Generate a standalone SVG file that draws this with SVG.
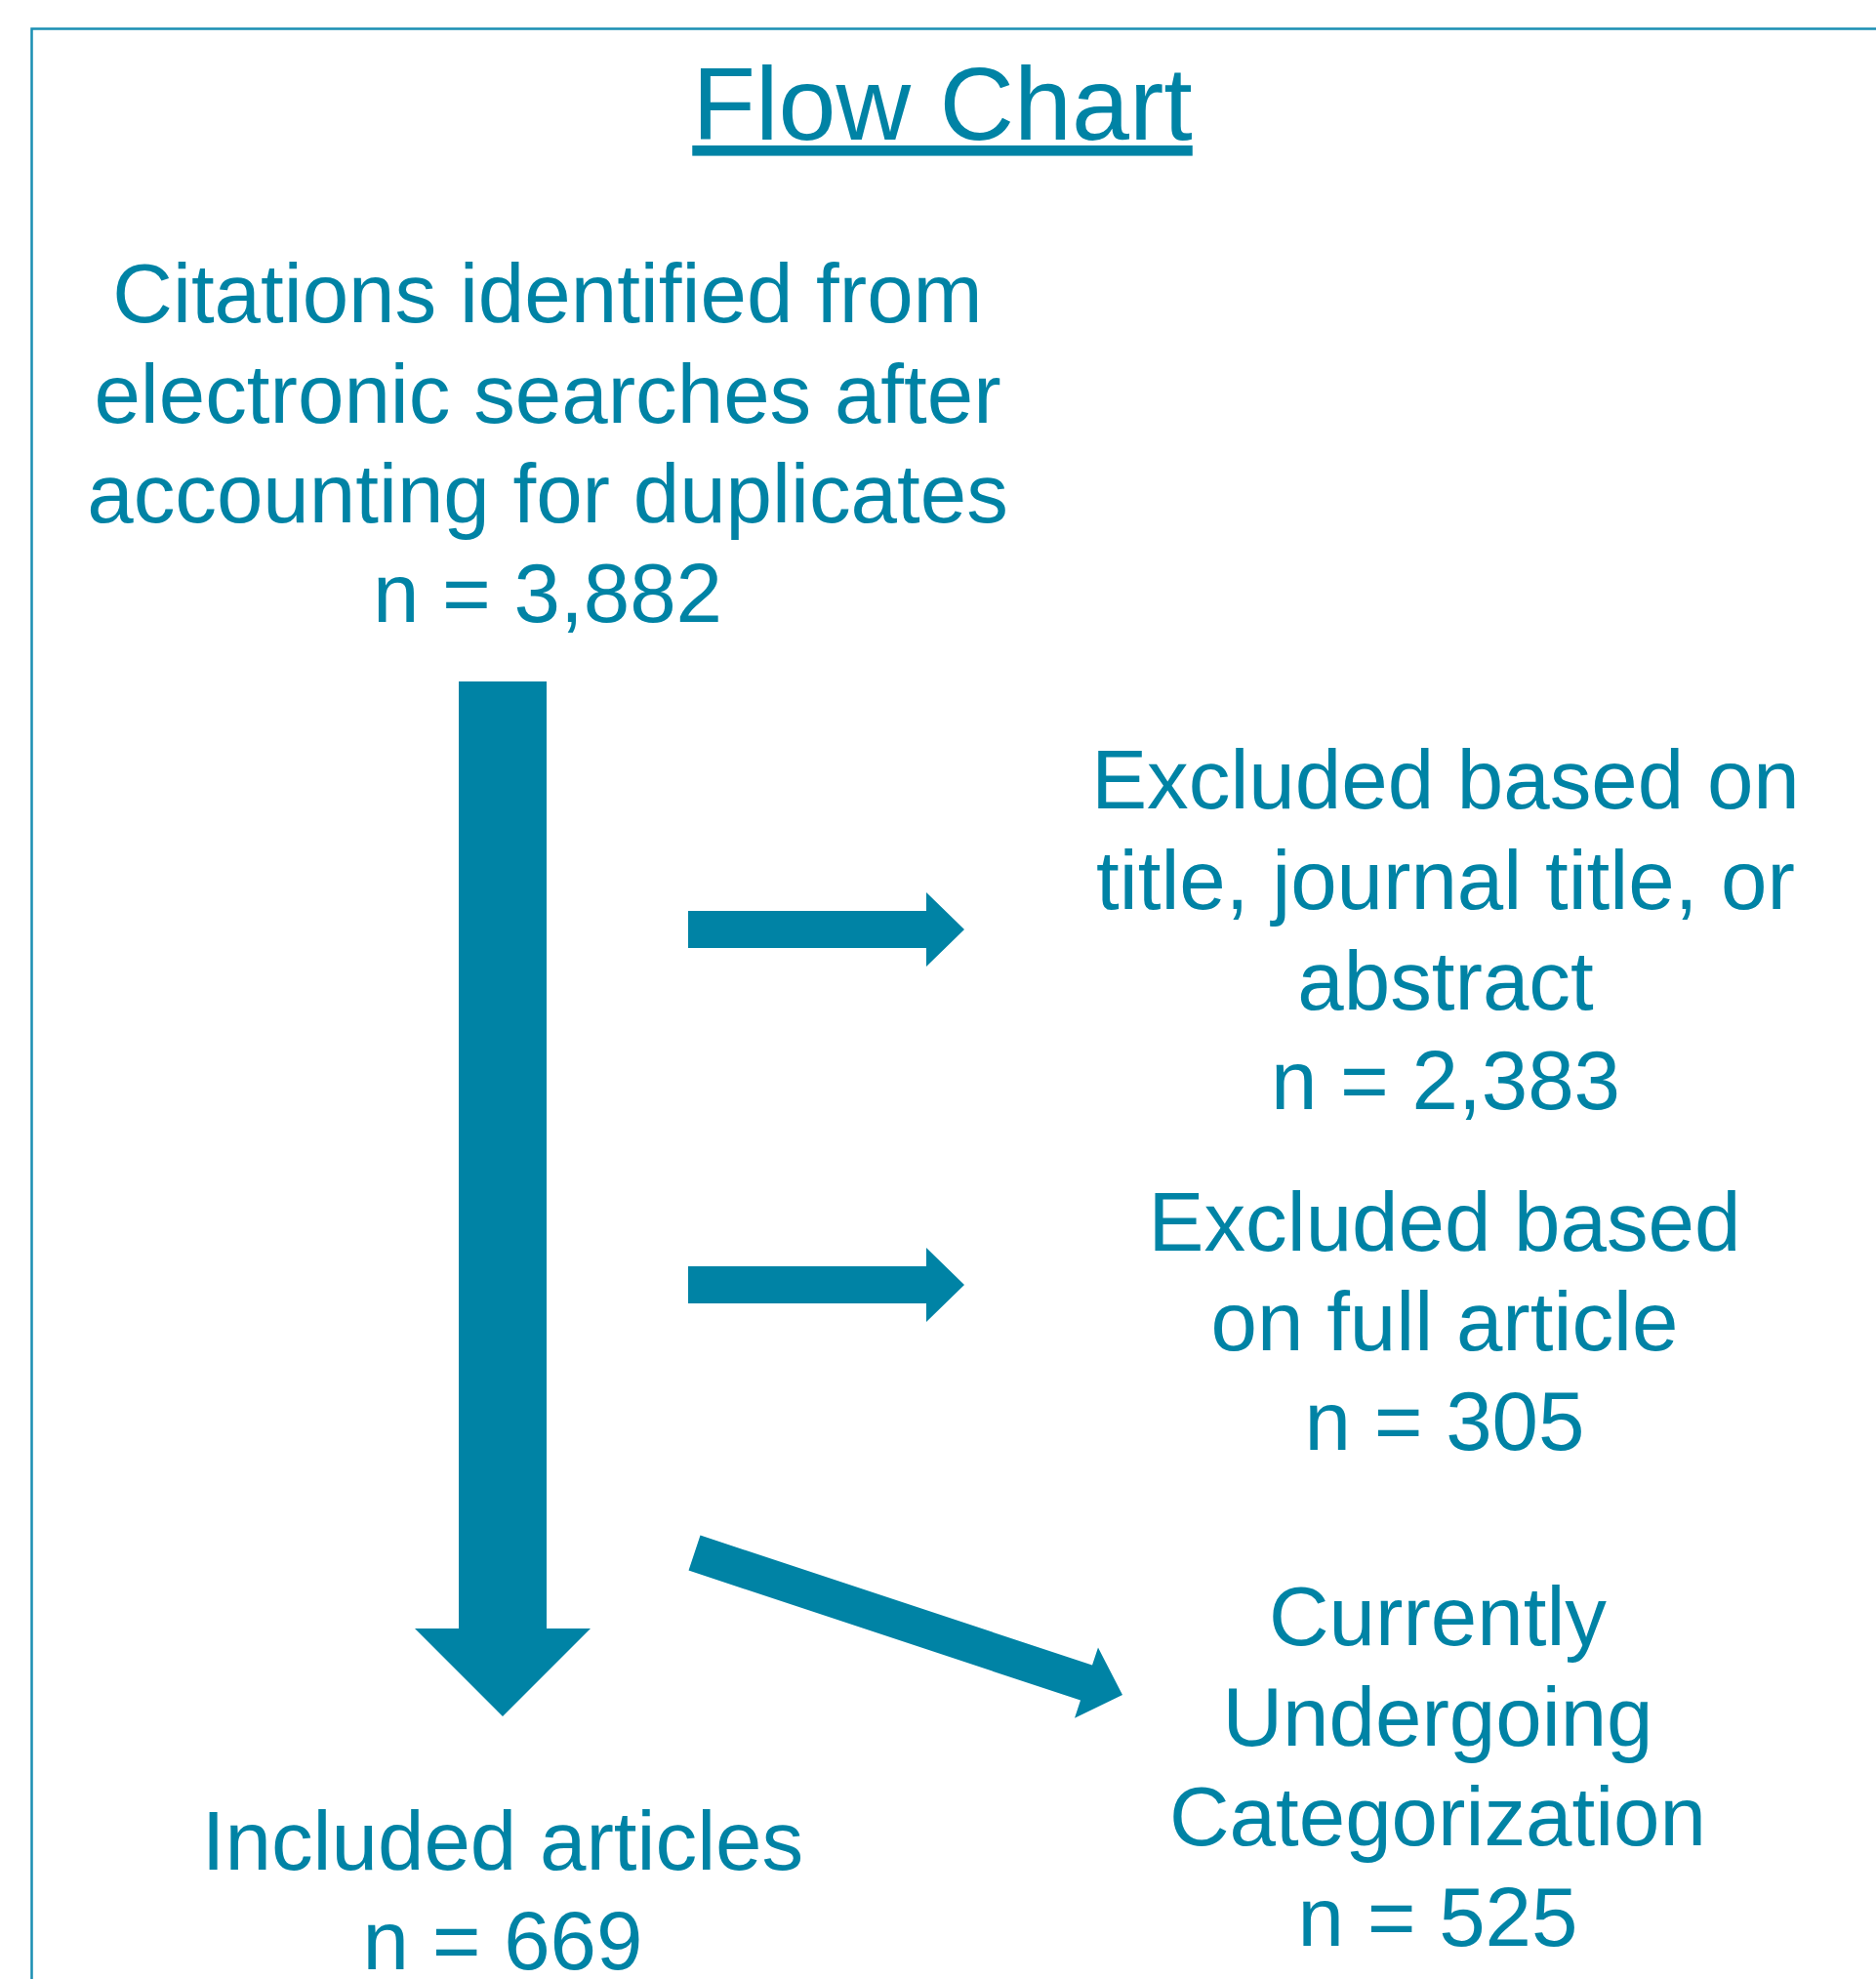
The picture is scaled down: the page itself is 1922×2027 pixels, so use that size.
<svg xmlns="http://www.w3.org/2000/svg" width="1922" height="2027" viewBox="0 0 1922 2027">
<style>
.t{font-family:"Liberation Sans",Arial,sans-serif;font-size:85.3px;fill:#0083A5;text-anchor:middle}
.arrow{fill:#0083A5;stroke:none}
</style>
<rect x="0" y="0" width="1922" height="2027" fill="#ffffff"/>
<path d="M32.5,2040 V29.5 H1940" fill="none" stroke="#1A8FB3" stroke-width="2.5"/>
<g id="title">
<text class="t" x="965.5" y="143" style="font-size:106px;text-decoration:underline">Flow Chart</text>
</g>
<g id="connectors">
<polygon class="arrow" points="470,698 560,698 560,1668 605,1668 515,1758 425,1668 470,1668"/>
<polygon class="arrow" points="705,933 949,933 949,914 988,952 949,990 949,971 705,971"/>
<polygon class="arrow" points="705,1297 949,1297 949,1278 988,1316 949,1354 949,1335 705,1335"/>
<polygon class="arrow" points="717.5,1572.5 1119,1705.6 1125,1687.5 1150,1735.9 1101,1759.7 1107,1741.6 705.5,1608.5"/>
</g>
<g id="node-citations">
<text class="t" x="561" y="330">Citations identified from</text>
<text class="t" x="561" y="432.5">electronic searches after</text>
<text class="t" x="561" y="535">accounting for duplicates</text>
<text class="t" x="561" y="637">n = 3,882</text>
</g>
<g id="node-excluded-title">
<text class="t" x="1481" y="828">Excluded based on</text>
<text class="t" x="1481" y="930.5">title, journal title, or</text>
<text class="t" x="1481" y="1033.5">abstract</text>
<text class="t" x="1481" y="1135.5">n = 2,383</text>
</g>
<g id="node-excluded-full">
<text class="t" x="1480" y="1281">Excluded based</text>
<text class="t" x="1480" y="1383">on full article</text>
<text class="t" x="1480" y="1485">n = 305</text>
</g>
<g id="node-undergoing">
<text class="t" x="1473" y="1685">Currently</text>
<text class="t" x="1473" y="1787.5">Undergoing</text>
<text class="t" x="1473" y="1890">Categorization</text>
<text class="t" x="1473" y="1992.5">n = 525</text>
</g>
<g id="node-included">
<text class="t" x="515" y="1915">Included articles</text>
<text class="t" x="515" y="2017">n = 669</text>
</g>
</svg>
